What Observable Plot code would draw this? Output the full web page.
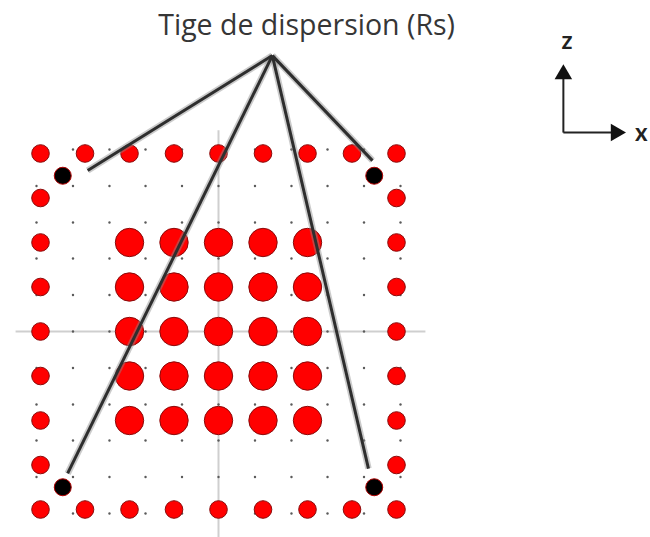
<!DOCTYPE html>
<html>
<head>
<meta charset="utf-8">
<script src="https://cdn.jsdelivr.net/npm/d3@7"></script>
<script src="https://cdn.jsdelivr.net/npm/@observablehq/plot@0.6"></script>
<style>
  html, body { margin: 0; padding: 0; background: #fff; }
  #chart svg { display: block; }
</style>
</head>
<body>
<div id="chart"></div>
<script>
// Positions in grid units (1 unit = rod pitch of the outer ring)
const ringPos = [-4, -3, -2, -1, 0, 1, 2, 3, 4];
const innerPos = [-2, -1, 0, 1, 2];
const tinyGridPos = [-4.09, -3.27, -2.45, -1.64, -0.82, 0, 0.82, 1.64, 2.45, 3.27, 4.09];
const dispersionRods = [
  {x: -3.5, z: 3.5}, {x: 3.5, z: 3.5}, {x: -3.5, z: -3.5}, {x: 3.5, z: -3.5}
];
const titleText = "Tige de dispersion (Rs)";
const titlePos = {x: 1.98, z: 6.86};
const apex = {x: 1.21, z: 6.2};
const leaderEnds = [
  {x: -2.94, z: 3.62}, {x: -3.39, z: -3.19}, {x: 3.37, z: -3.08}, {x: 3.46, z: 3.84}
];
const crossH = [{x1: -4.56, z1: 0, x2: 4.65, z2: 0}];
const crossV = [{x1: 0, z1: 4.52, x2: 0, z2: -4.63}];
// Axis indicator (origin, arrow tips, labels)
const triadOrigin = {x: 7.75, z: 4.47};
const triadUpEnd = {x: 7.75, z: 5.78};
const triadRightEnd = {x: 8.93, z: 4.47};
const triadLabels = [
  {x: 7.83, z: 6.52, label: "z"},
  {x: 9.5, z: 4.45, label: "x"}
];

// Build tables
const ring = [];
for (const i of ringPos) for (const j of ringPos)
  if (Math.abs(i) === 4 || Math.abs(j) === 4) ring.push({x: i, z: j});
const inner = [];
for (const i of innerPos) for (const j of innerPos) inner.push({x: i, z: j});
const tiny = [];
for (const i of tinyGridPos) for (const j of tinyGridPos) tiny.push({x: i, z: j});
const leaders = leaderEnds.map(e => ({x1: apex.x, z1: apex.z, x2: e.x, z2: e.z}));
const triadLines = [
  {x1: triadOrigin.x, z1: triadOrigin.z, x2: triadUpEnd.x, z2: triadUpEnd.z},
  {x1: triadOrigin.x, z1: triadOrigin.z, x2: triadRightEnd.x, z2: triadRightEnd.z}
];
const triadHeads = [
  {x: triadUpEnd.x, z: triadUpEnd.z, rot: 0},
  {x: triadRightEnd.x, z: triadRightEnd.z, rot: 90}
];

const chart = Plot.plot({
  width: 650,
  height: 537,
  margin: 0,
  x: {domain: [-4.899, 9.708], axis: null},
  y: {domain: [-4.629, 7.438], axis: null},
  style: {background: "#fff"},
  marks: [
    Plot.link(crossH, {x1: "x1", y1: "z1", x2: "x2", y2: "z2", stroke: "#cfcfcf", strokeWidth: 2}),
    Plot.link(crossV, {x1: "x1", y1: "z1", x2: "x2", y2: "z2", stroke: "#cfcfcf", strokeWidth: 2}),
    Plot.dot(tiny, {x: "x", y: "z", r: 1.2, fill: "#5a5a5a", stroke: "none"}),
    Plot.dot(ring, {x: "x", y: "z", r: 8.8, fill: "#ff0000", stroke: "#8a0a0a", strokeWidth: 1}),
    Plot.dot(inner, {x: "x", y: "z", r: 14.2, fill: "#ff0000", stroke: "#8a0a0a", strokeWidth: 1}),
    Plot.dot(dispersionRods, {x: "x", y: "z", r: 8.5, fill: "#000", stroke: "#b00000", strokeWidth: 1}),
    Plot.link(leaders, {x1: "x1", y1: "z1", x2: "x2", y2: "z2", stroke: "#8c8c8c", strokeWidth: 6.5, strokeOpacity: 0.45}),
    Plot.link(leaders, {x1: "x1", y1: "z1", x2: "x2", y2: "z2", stroke: "#2e2e2e", strokeWidth: 3}),
    Plot.text([titlePos], {x: "x", y: "z", text: () => titleText, fontSize: 28.5, fill: "#363636", fontFamily: "'Open Sans', Lato, sans-serif"}),
    Plot.link(triadLines, {x1: "x1", y1: "z1", x2: "x2", y2: "z2", stroke: "#222", strokeWidth: 2}),
    Plot.dot(triadHeads, {x: "x", y: "z", symbol: "triangle", r: 6.5, fill: "#111", stroke: "none", rotate: "rot"}),
    Plot.text(triadLabels, {x: "x", y: "z", text: "label", fontSize: 24, fontWeight: "bold", fill: "#222", fontFamily: "Lato, 'Open Sans', sans-serif"})
  ]
});
document.getElementById("chart").appendChild(chart);
</script>
</body>
</html>
